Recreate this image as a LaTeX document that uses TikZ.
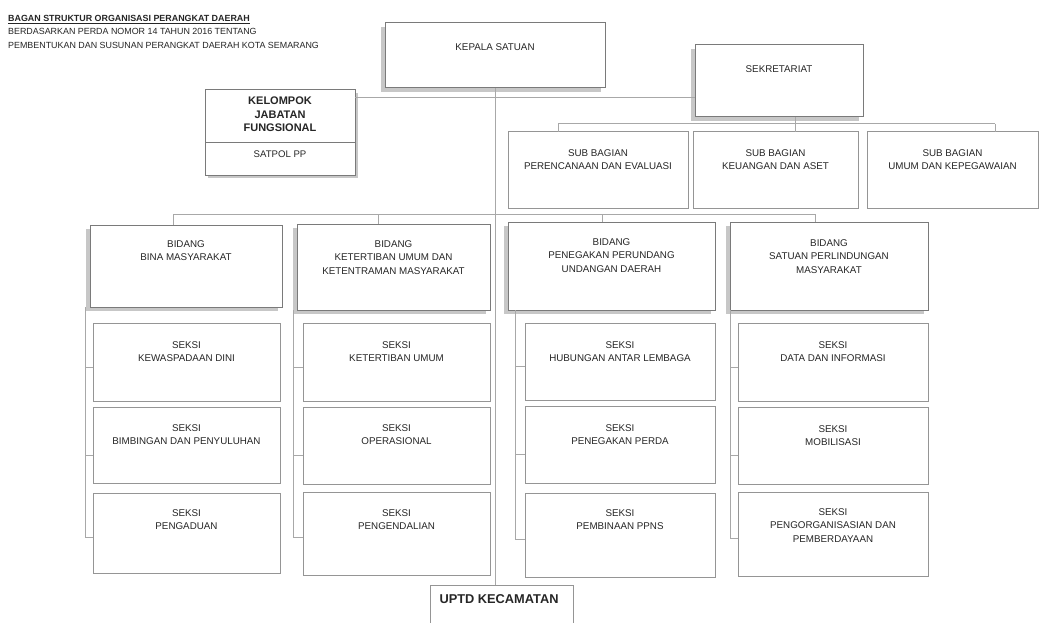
\documentclass[tikz,border=0pt]{standalone}
\usepackage{fontspec}
\setmainfont{Liberation Sans}
\usetikzlibrary{calc,shadows}
\definecolor{boxline}{HTML}{7A7A7A}
\definecolor{wire}{HTML}{A8A8A8}
\definecolor{ink}{HTML}{262626}
\tikzset{
  unitbox/.style={draw=boxline, line width=1pt, fill=white, inner sep=0pt, outer sep=0pt},
  shadowL/.style={unitbox, drop shadow={shadow xshift=-4pt, shadow yshift=-4pt, fill=black!40, opacity=.55}},
  shadowR/.style={unitbox, drop shadow={shadow xshift=3pt, shadow yshift=-3pt, fill=black!40, opacity=.55}},
  plain/.style={unitbox, draw=boxline!80},
  lbl/.style={text=ink, font=\fontsize{9.8}{13.5}\selectfont, align=center, inner sep=0pt},
  wireline/.style={draw=wire, line width=1pt},
}
% box with its label set a fixed distance below the top edge
\newcommand\orgbox[8]{%
  \node[#1, anchor=north west, minimum width=#5-#3, minimum height=#6-#4] (#2) at (#3,#4) {};
  \node[lbl, anchor=north] (#2-t) at ($(#2.north)+(0,#7)$) {#8};}
\begin{document}
\begin{tikzpicture}[x=1pt,y=-1pt]
\useasboundingbox (0,0) rectangle (1041,623);
\fill[white] (0,0) rectangle (1041,623);

% heading
\node[anchor=north west, inner sep=0pt, text=ink, align=left,
      font=\fontsize{8.9}{13.5}\selectfont] (head) at (8,15)
  {\textbf{\underline{BAGAN STRUKTUR ORGANISASI PERANGKAT DAERAH}}\\
   BERDASARKAN PERDA NOMOR 14 TAHUN 2016 TENTANG\\
   PEMBENTUKAN DAN SUSUNAN PERANGKAT DAERAH KOTA SEMARANG};

% top level
\orgbox{shadowL}{kepala}{385}{23}{605}{88}{20}{KEPALA SATUAN}
\orgbox{shadowL}{sek}{695}{45}{863}{117}{20}{SEKRETARIAT}

% functional group box, split in two parts
\node[shadowR, anchor=north west, minimum width=150, minimum height=85] (kjf) at (205,90) {};
\node[lbl, anchor=north, font=\fontsize{11}{13.5}\selectfont\bfseries] (kjf-t)
  at ($(kjf.north)+(0,7)$) {KELOMPOK\\JABATAN\\FUNGSIONAL};
\coordinate (kd) at (0,142);
\draw[boxline, line width=0.9pt] (kjf.west |- kd) -- (kjf.east |- kd);
\node[lbl, font=\fontsize{9.6}{12}\selectfont] (kjf-s) at (280,154) {SATPOL PP};

% sub bagian
\orgbox{plain}{sb1}{508}{132}{688}{208}{17}{SUB BAGIAN\\PERENCANAAN DAN EVALUASI}
\orgbox{plain}{sb2}{693}{132}{858}{208}{17}{SUB BAGIAN\\KEUANGAN DAN ASET}
\orgbox{plain}{sb3}{867}{132}{1038}{208}{17}{SUB BAGIAN\\UMUM DAN KEPEGAWAIAN}

% bidang
\orgbox{shadowL}{bd1}{90}{225}{282}{307}{15}{BIDANG\\BINA MASYARAKAT}
\orgbox{shadowL}{bd2}{297}{224}{490}{310}{16}{BIDANG\\KETERTIBAN UMUM DAN\\KETENTRAMAN MASYARAKAT}
\orgbox{shadowL}{bd3}{508}{222}{715}{310}{16}{BIDANG\\PENEGAKAN PERUNDANG\\UNDANGAN  DAERAH}
\orgbox{shadowL}{bd4}{730}{222}{928}{310}{17}{BIDANG\\SATUAN PERLINDUNGAN\\MASYARAKAT}

% seksi, column 1
\orgbox{plain}{s11}{93}{323}{280}{401}{18}{SEKSI\\KEWASPADAAN DINI}
\orgbox{plain}{s12}{93}{407}{280}{483}{17}{SEKSI\\BIMBINGAN DAN  PENYULUHAN}
\orgbox{plain}{s13}{93}{493}{280}{573}{16}{SEKSI\\PENGADUAN}
% seksi, column 2
\orgbox{plain}{s21}{303}{323}{490}{401}{18}{SEKSI\\KETERTIBAN UMUM}
\orgbox{plain}{s22}{303}{407}{490}{484}{17}{SEKSI\\OPERASIONAL}
\orgbox{plain}{s23}{303}{492}{490}{575}{17}{SEKSI\\PENGENDALIAN}
% seksi, column 3
\orgbox{plain}{s31}{525}{323}{715}{400}{18}{SEKSI\\HUBUNGAN ANTAR LEMBAGA}
\orgbox{plain}{s32}{525}{406}{715}{483}{18}{SEKSI\\PENEGAKAN PERDA}
\orgbox{plain}{s33}{525}{493}{715}{577}{16}{SEKSI\\PEMBINAAN PPNS}
% seksi, column 4
\orgbox{plain}{s41}{738}{323}{928}{401}{18}{SEKSI\\DATA DAN INFORMASI}
\orgbox{plain}{s42}{738}{407}{928}{484}{18}{SEKSI\\MOBILISASI}
\orgbox{plain}{s43}{738}{492}{928}{576}{16}{SEKSI\\PENGORGANISASIAN DAN\\PEMBERDAYAAN}

% UPTD
\node[unitbox, draw=boxline!80, anchor=north west, minimum width=143, minimum height=45] (uptd) at (430,585) {};
\node[lbl, font=\fontsize{12.8}{14}\selectfont\bfseries] (uptd-t) at (499,599) {UPTD KECAMATAN};

% ---- connectors ----
\draw[wireline] (kepala.south) -- (kepala.south |- uptd.north);
\coordinate (jA) at (495,98);
\draw[wireline] (kjf.east |- jA) -- (sek.west |- jA);

\coordinate (jB) at (795,124);
\coordinate (tB1) at (558,124);
\coordinate (tB3) at (995,124);
\draw[wireline] (sek.south -| jB) -- (jB);
\draw[wireline] (tB1) -- (tB3);
\draw[wireline] (tB1) -- (tB1 |- sb1.north);
\draw[wireline] (jB) -- (jB |- sb2.north);
\draw[wireline] (tB3) -- (tB3 |- sb3.north);

\coordinate (c1) at (173,214);
\coordinate (c2) at (378,214);
\coordinate (c3) at (602,214);
\coordinate (c4) at (815,214);
\draw[wireline] (c1) -- (c4);
\draw[wireline] (c1) -- (c1 |- bd1.north);
\draw[wireline] (c2) -- (c2 |- bd2.north);
\draw[wireline] (c3) -- (c3 |- bd3.north);
\draw[wireline] (c4) -- (c4 |- bd4.north);

\coordinate (l1) at (85,0);
\coordinate (l2) at (293,0);
\coordinate (l3) at (515,0);
\coordinate (l4) at (730,0);
\foreach \c/\b/\s in {l1/bd1/s1, l2/bd2/s2, l3/bd3/s3, l4/bd4/s4}{
  \draw[wireline] (\c |- \b.south) -- ([yshift=-4pt]\c |- \s3.west) -- ([yshift=-4pt]\s3.west);
  \draw[wireline] ([yshift=-5pt]\c |- \s1.west) -- ([yshift=-5pt]\s1.west);
  \draw[wireline] ([yshift=-10pt]\c |- \s2.west) -- ([yshift=-10pt]\s2.west);
}
\end{tikzpicture}
\end{document}
